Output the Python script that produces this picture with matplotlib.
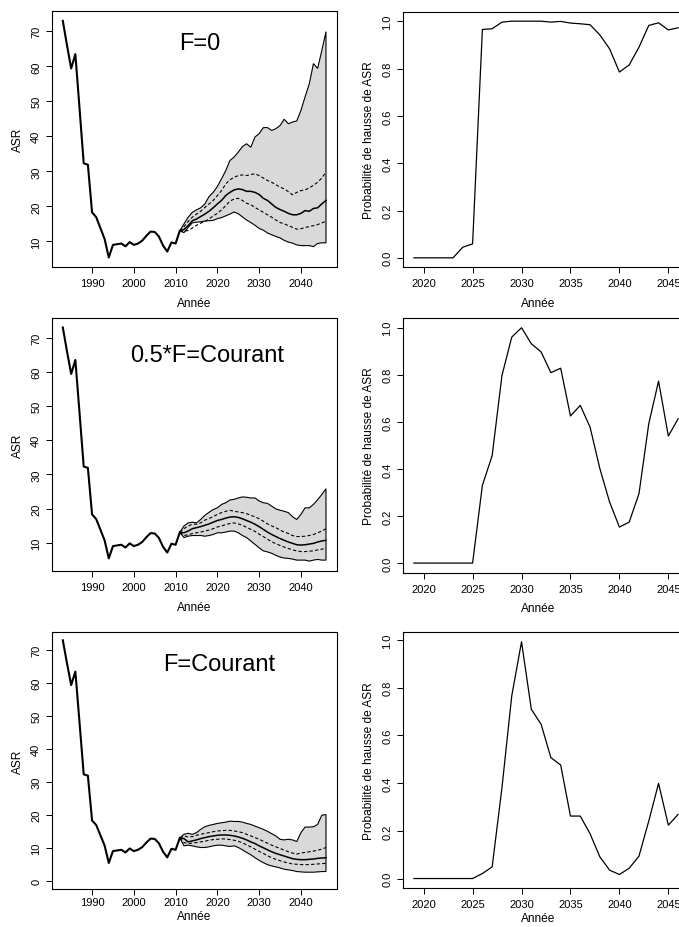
import matplotlib
matplotlib.use('Agg')
import numpy as np
import matplotlib.pyplot as plt

plt.rcParams['font.family'] = ['Liberation Sans', 'DejaVu Sans']

# historical ASR (same in every scenario)
hist_years = list(range(1983, 2012))
hist_asr = [73.0, 66.0, 59.4, 63.5, 48.0, 32.3, 31.9, 18.3, 16.9, 13.8,
            10.7, 5.4, 9.0, 9.2, 9.4, 8.6, 9.8, 9.0, 9.4, 10.2,
            11.6, 12.8, 12.7, 11.4, 8.8, 7.1, 9.7, 9.4, 13.0]

# projections 2011-2046 : lower, q25, median, q75, upper
proj_years = list(range(2011, 2047))

f0_lo = [13.0, 12.5, 14.0, 15.3, 15.5, 15.6, 15.8, 15.9, 16.0, 16.5,
         16.8, 17.3, 17.8, 18.4, 17.9, 17.0, 16.1, 15.4, 14.6, 13.7,
         13.2, 12.4, 11.9, 11.4, 11.0, 10.3, 9.8, 9.5, 9.0, 8.8,
         8.8, 8.8, 8.5, 9.4, 9.6, 9.6]
f0_q25 = [13.0, 12.9, 13.1, 13.8, 14.6, 15.2, 15.7, 16.4, 17.3, 18.0,
          19.0, 20.2, 21.5, 22.1, 22.3, 21.7, 20.9, 20.5, 19.7, 19.0,
          18.3, 17.6, 16.9, 16.1, 15.4, 15.0, 14.5, 14.0, 13.5, 13.6,
          14.0, 14.2, 14.5, 14.8, 15.3, 15.7]
f0_med = [13.0, 13.4, 14.5, 15.9, 16.4, 17.1, 17.8, 18.6, 19.6, 20.7,
          21.7, 23.1, 24.0, 24.7, 25.0, 24.8, 24.3, 24.3, 24.0, 23.4,
          22.3, 21.7, 20.7, 19.7, 19.1, 18.6, 18.0, 17.6, 17.6, 18.0,
          18.8, 18.6, 19.4, 19.6, 20.7, 21.7]
f0_q75 = [13.0, 14.2, 15.7, 16.9, 17.8, 18.6, 19.7, 20.7, 21.7, 23.1,
          24.5, 26.4, 27.6, 28.3, 28.8, 29.0, 28.8, 29.1, 29.3, 28.8,
          28.1, 27.4, 26.9, 26.2, 25.5, 25.0, 24.2, 23.3, 24.0, 24.5,
          24.7, 25.3, 26.0, 26.9, 28.1, 29.8]
f0_hi = [13.0, 15.0, 16.9, 18.3, 19.0, 19.6, 20.7, 22.8, 24.0, 25.7,
         27.9, 30.2, 33.1, 34.1, 35.5, 37.1, 37.9, 36.9, 39.8, 40.8,
         42.5, 42.5, 41.7, 42.2, 43.1, 44.9, 43.6, 44.1, 44.4, 47.4,
         51.3, 55.0, 60.8, 59.4, 64.5, 69.9]

half_lo = [13.0, 11.5, 11.9, 12.1, 12.1, 12.1, 11.9, 12.1, 12.4, 12.9,
           12.9, 13.1, 13.4, 13.4, 12.9, 12.1, 11.5, 10.5, 9.5, 8.5,
           7.6, 7.3, 6.9, 6.3, 5.8, 5.5, 5.4, 5.2, 4.9, 4.9,
           4.9, 4.6, 4.9, 5.1, 4.9, 4.9]
half_q25 = [13.0, 12.1, 12.3, 12.7, 12.9, 13.1, 13.4, 13.7, 14.1, 14.6,
            14.9, 15.3, 15.6, 15.8, 15.5, 15.1, 14.5, 13.9, 13.3, 12.5,
            11.8, 11.0, 10.3, 9.7, 9.2, 8.7, 8.3, 7.9, 7.6, 7.4,
            7.4, 7.5, 7.6, 7.9, 8.1, 8.3]
half_med = [13.0, 12.9, 13.4, 14.1, 14.4, 14.7, 15.1, 15.5, 16.0, 16.5,
            16.8, 17.2, 17.5, 17.6, 17.4, 17.0, 16.5, 16.0, 15.4, 14.7,
            13.9, 13.1, 12.4, 11.8, 11.2, 10.7, 10.2, 9.8, 9.4, 9.3,
            9.4, 9.6, 9.8, 10.2, 10.5, 10.7]
half_q75 = [13.0, 14.1, 14.9, 15.4, 15.4, 15.8, 16.6, 17.1, 17.6, 18.3,
            18.8, 19.2, 19.5, 19.2, 19.0, 18.8, 18.5, 18.0, 17.6, 17.0,
            16.3, 15.5, 14.9, 14.4, 13.7, 13.1, 12.7, 12.1, 11.8, 11.8,
            11.9, 12.1, 12.4, 12.9, 13.4, 14.1]
half_hi = [13.0, 14.9, 15.8, 16.0, 15.8, 16.8, 18.0, 18.9, 19.7, 20.2,
           21.2, 21.7, 22.5, 22.7, 23.1, 23.4, 23.3, 23.1, 23.1, 22.2,
           21.7, 21.5, 20.7, 19.9, 19.5, 19.2, 18.8, 17.6, 16.8, 18.3,
           20.2, 20.2, 21.2, 22.6, 24.1, 25.8]

cur_lo = [13.0, 10.6, 10.8, 10.6, 10.3, 10.1, 10.1, 10.3, 10.6, 10.8,
          10.8, 10.6, 10.4, 10.6, 10.1, 9.4, 8.6, 7.9, 7.0, 6.2,
          5.5, 4.9, 4.5, 4.2, 3.9, 3.5, 3.3, 3.1, 2.8, 2.7,
          2.6, 2.6, 2.6, 2.7, 2.8, 2.8]
cur_q25 = [13.0, 11.6, 11.3, 11.4, 11.6, 11.8, 12.0, 12.3, 12.5, 12.6,
           12.7, 12.7, 12.5, 12.3, 12.0, 11.5, 10.9, 10.3, 9.6, 8.9,
           8.3, 7.6, 7.0, 6.5, 6.1, 5.7, 5.4, 5.1, 5.0, 4.9,
           4.9, 4.9, 5.0, 5.1, 5.2, 5.3]
cur_med = [13.0, 12.8, 11.8, 12.1, 12.4, 12.8, 13.1, 13.4, 13.6, 13.8,
           13.9, 13.9, 13.8, 13.6, 13.3, 12.9, 12.4, 11.8, 11.3, 10.6,
           10.0, 9.4, 8.8, 8.3, 7.9, 7.5, 7.1, 6.7, 6.5, 6.4,
           6.4, 6.5, 6.6, 6.8, 6.9, 7.0]
cur_q75 = [13.0, 13.6, 13.3, 13.4, 13.8, 14.1, 14.4, 14.6, 14.9, 15.1,
           15.2, 15.3, 15.3, 15.1, 14.9, 14.6, 14.1, 13.6, 13.1, 12.6,
           12.0, 11.4, 10.8, 10.3, 9.8, 9.3, 8.8, 8.4, 8.1, 8.4,
           8.6, 8.8, 9.0, 9.3, 9.6, 10.1]
cur_hi = [13.0, 14.1, 14.4, 14.1, 14.6, 15.6, 16.4, 16.8, 17.1, 17.4,
          17.6, 17.8, 18.1, 18.0, 18.0, 17.8, 17.4, 17.1, 16.6, 16.1,
          15.6, 15.0, 14.3, 13.6, 12.6, 12.4, 12.6, 12.4, 11.9, 14.6,
          16.3, 16.3, 16.4, 17.1, 19.9, 20.1]

# probability of ASR increase
prob_years = list(range(2019, 2047))
prob_f0 = [0, 0, 0, 0, 0, 0.045, 0.059, 0.965, 0.968, 0.996,
           1.0, 1.0, 1.0, 1.0, 0.996, 0.999, 0.992, 0.989, 0.985, 0.942,
           0.883, 0.785, 0.815, 0.89, 0.982, 0.993, 0.963, 0.972]
prob_half = [0, 0, 0, 0, 0, 0, 0, 0.33, 0.457, 0.797,
             0.96, 1.0, 0.932, 0.897, 0.809, 0.828, 0.625, 0.67, 0.578, 0.402,
             0.259, 0.153, 0.174, 0.295, 0.592, 0.773, 0.54, 0.613]
prob_cur = [0, 0, 0, 0, 0, 0, 0, 0.021, 0.049, 0.381,
            0.766, 0.993, 0.71, 0.647, 0.507, 0.476, 0.262, 0.262, 0.188, 0.091,
            0.035, 0.017, 0.043, 0.094, 0.241, 0.399, 0.224, 0.269]

titles = ['F=0', '0.5*F=Courant', 'F=Courant']
title_pos = [(2015.8, 66.7), (2017.6, 65.0), (2020.4, 65.8)]
left_ylims = [(2.8, 75.7), (1.8, 75.7), (-2.5, 75.6)]
left_yticks = [range(10, 80, 10), range(10, 80, 10), range(0, 80, 10)]

scenarios = [
    (f0_lo, f0_q25, f0_med, f0_q75, f0_hi, prob_f0),
    (half_lo, half_q25, half_med, half_q75, half_hi, prob_half),
    (cur_lo, cur_q25, cur_med, cur_q75, cur_hi, prob_cur),
]

W, H = 679, 928
# frame boxes in pixels: (top, bottom)
left_rows = [(12.4, 267.6), (319.3, 571.7), (632.7, 890.0)]
right_rows = [(12.7, 268.3), (319.3, 573.5), (633.3, 889.0)]
left_x = (52.3, 336.5)
right_x = (403.3, 688.7)
# x tick label pad (pt) and x label offset (px) per row
xpads = [4.0, 4.0, 1.5]
xlab_offs = [36, 36, 27]


def r_range(vals):
    lo, hi = min(vals), max(vals)
    d = 0.04 * (hi - lo)
    return lo - d, hi + d


def px_axes(xs, ys):
    return fig.add_axes([xs[0] / W, 1 - ys[1] / H,
                         (xs[1] - xs[0]) / W, (ys[1] - ys[0]) / H])


def style(ax, xpad, xlab_frac, xlab_off, ylab_off):
    for s in ax.spines.values():
        s.set_linewidth(0.8)
        s.set_color('black')
    ax.tick_params(direction='out', length=4, width=0.7, labelsize=8,
                   colors='black')
    ax.tick_params(axis='x', pad=xpad)
    ax.tick_params(axis='y', pad=4)
    for lab in ax.get_yticklabels():
        lab.set_rotation(90)
        lab.set_va('center')
    ax.xaxis.label.set_va('center')
    ax.yaxis.label.set_va('center')
    bb = ax.get_position()
    ax.xaxis.set_label_coords(xlab_frac, -xlab_off / (bb.height * H))
    ax.yaxis.set_label_coords(-ylab_off / (bb.width * W), 0.5)


fig = plt.figure(figsize=(W / 100, H / 100), dpi=100)

for i, (lo, q25, med, q75, hi, prob) in enumerate(scenarios):
    # left: ASR trajectory with projection envelope
    ax = px_axes(left_x, left_rows[i])
    ax.fill(np.concatenate([proj_years, proj_years[::-1]]),
            np.concatenate([lo, hi[::-1]]),
            facecolor='#d9d9d9', edgecolor='black', linewidth=0.8, zorder=1)
    ax.plot(proj_years, q25, color='black', lw=0.8, ls=(0, (3, 2)), zorder=2)
    ax.plot(proj_years, q75, color='black', lw=0.8, ls=(0, (3, 2)), zorder=2)
    ax.plot(proj_years, med, color='black', lw=1.1, zorder=3)
    ax.plot(hist_years, hist_asr, color='black', lw=1.5, zorder=4)
    ax.set_xlim(*r_range(hist_years + proj_years))
    ax.set_ylim(*left_ylims[i])
    ax.set_xticks(range(1990, 2041, 10))
    ax.set_yticks(list(left_yticks[i]))
    ax.set_xlabel('Année', fontsize=8.6)
    ax.set_ylabel('ASR', fontsize=8.6)
    ax.text(title_pos[i][0], title_pos[i][1], titles[i], fontsize=17,
            ha='center', va='center')
    style(ax, xpads[i], 0.5, xlab_offs[i], 34)

    # right: probability of increase
    ax2 = px_axes(right_x, right_rows[i])
    ax2.plot(prob_years, prob, color='black', lw=0.9)
    ax2.set_xlim(*r_range(prob_years))
    ax2.set_ylim(*r_range(prob))
    ax2.set_xticks(range(2020, 2046, 5))
    ax2.set_yticks([0, 0.2, 0.4, 0.6, 0.8, 1.0])
    ax2.set_yticklabels(['0.0', '0.2', '0.4', '0.6', '0.8', '1.0'])
    ax2.set_xlabel('Année', fontsize=8.6)
    ax2.set_ylabel('Probabilité de hausse de ASR', fontsize=8.6)
    style(ax2, 4.0, 0.472, 36 if i < 2 else 30, 34)

fig.savefig('out.png', dpi=100)
